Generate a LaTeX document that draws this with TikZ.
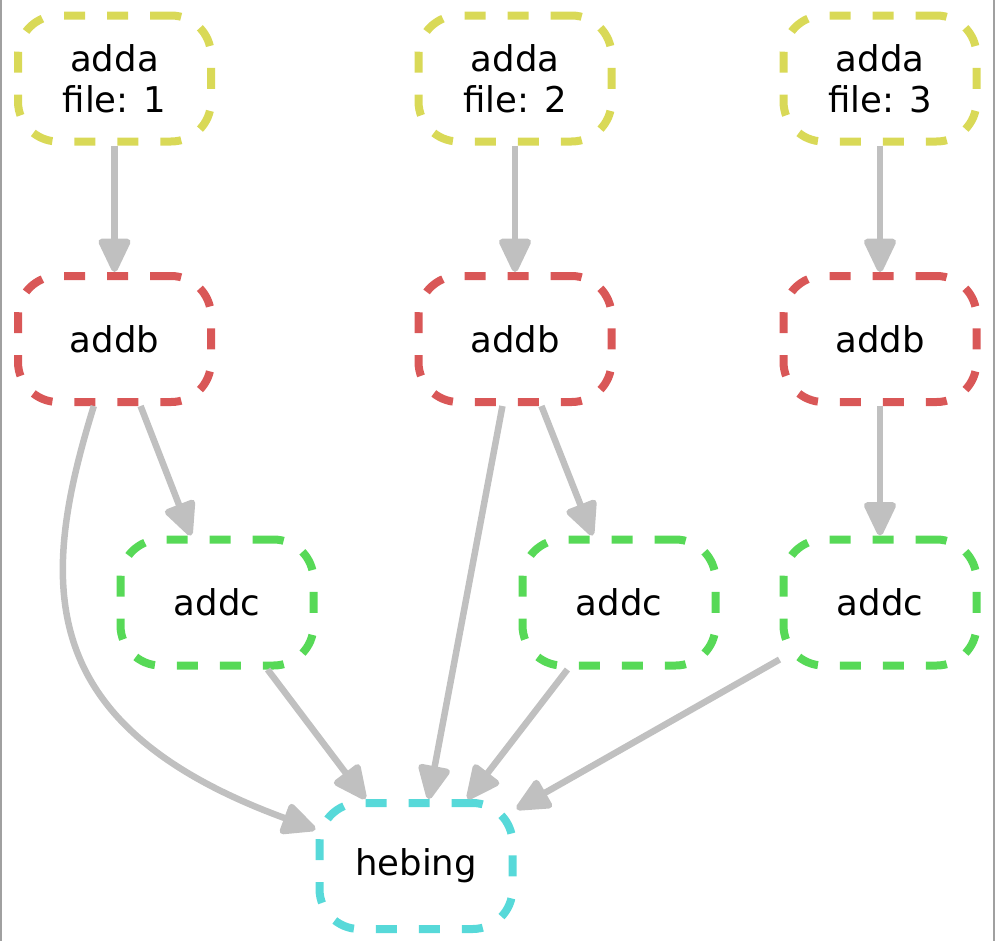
\documentclass[tikz,border=0pt]{standalone}
\usepackage{fontspec}
\setmainfont{DejaVu Sans}
\usepackage{xcolor}
\usepackage{tikz}
\usetikzlibrary{arrows.meta}

\definecolor{ruleA}{RGB}{217,217,87}
\definecolor{ruleB}{RGB}{217,87,87}
\definecolor{ruleC}{RGB}{87,217,87}
\definecolor{ruleD}{RGB}{87,217,217}
\definecolor{edgegray}{RGB}{192,192,192}
\definecolor{framegray}{RGB}{160,160,160}

\begin{document}
\begin{tikzpicture}[
  job/.style={draw, rounded corners=0.4cm, align=center, line width=0.08cm,
    dash pattern=on 0.21cm off 0.22cm, minimum width=1.93cm, minimum height=1.26cm,
    font=\fontsize{10.1}{11.8}\selectfont},
  arrow/.style={-{Triangle[round, length=0.38cm, width=0.34cm, fill=edgegray]}, line width=0.065cm, draw=edgegray}
]
\useasboundingbox (0,0) rectangle (9.97,-9.41);
\draw[framegray, line width=0.02cm] (0.01,0) -- (0.01,-9.41);
\draw[framegray, line width=0.02cm] (9.94,0) -- (9.94,-9.41);

\node[job, draw=ruleA] (a1) at (1.145,-0.785) {adda\\file: 1};
\node[job, draw=ruleA] (a2) at (5.15,-0.785) {adda\\file: 2};
\node[job, draw=ruleA] (a3) at (8.80,-0.785) {adda\\file: 3};
\node[job, draw=ruleB] (b1) at (1.145,-3.39) {addb};
\node[job, draw=ruleB] (b2) at (5.15,-3.39) {addb};
\node[job, draw=ruleB] (b3) at (8.80,-3.39) {addb};
\node[job, draw=ruleC] (c1) at (2.17,-6.025) {addc};
\node[job, draw=ruleC] (c2) at (6.19,-6.025) {addc};
\node[job, draw=ruleC] (c3) at (8.80,-6.025) {addc};
\node[job, draw=ruleD] (h) at (4.16,-8.66) {hebing};

\foreach \x/\y in {a1/b1,a2/b2,a3/b3,b1/c1,b2/c2,b3/c3,b2/h,c1/h,c2/h,c3/h}
  \draw[arrow] (\x) -- (\y);
\draw[arrow] (b1) .. controls (0.40,-5.80) and (0.30,-7.25) .. (h);
\end{tikzpicture}
\end{document}
